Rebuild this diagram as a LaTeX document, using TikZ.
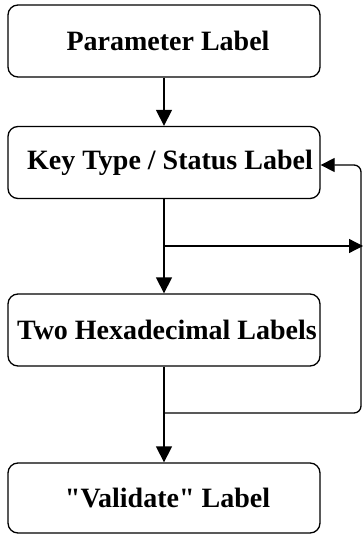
\documentclass[tikz,border=0pt]{standalone}
\usepackage{fontspec}
\setmainfont{Liberation Serif}[Ligatures=TeXOff]
\usetikzlibrary{arrows.meta}
\tikzset{
  box/.style={draw, line width=1.3pt, rounded corners=10pt, minimum width=312pt, minimum height=72pt, inner sep=0pt,
    font=\fontsize{28}{32}\selectfont\bfseries},
  arr/.style={line width=1.3pt, -{Triangle[length=16pt,width=16pt]}},
  sarr/.style={line width=1.3pt, -{Triangle[length=14pt,width=14pt]}},
}
\begin{document}
\begin{tikzpicture}[x=1pt,y=1pt]
\useasboundingbox (0,0) rectangle (363,-534);
\node[box] (b1) at (164,-41) {\hspace*{8pt}Parameter Label};
\node[box] (b2) at (164,-162.5) {\hspace*{12pt}Key Type / Status Label};
\node[box] (b3) at (164,-330) {\hspace*{6pt}Two Hexadecimal Labels};
\node[box, minimum height=70pt] (b4) at (164,-498) {\hspace*{7pt}"Validate" Label};
\coordinate (j1) at (164,-246);
\coordinate (o1) at (363,-246);
\coordinate (j2) at (164,-413);
\coordinate (f1) at (361,-413);
\coordinate (f2) at (361,-165);
\draw[arr] (b1.south) -- (b2.north);
\draw[arr] (b2.south) -- (b3.north);
\draw[arr] (b3.south) -- (b4.north);
\draw[sarr] (j1) -- (o1);
\draw[sarr, rounded corners=7pt] (j2) -- (f1) -- (f2) -- (b2.east |- f2);
\end{tikzpicture}
\end{document}
